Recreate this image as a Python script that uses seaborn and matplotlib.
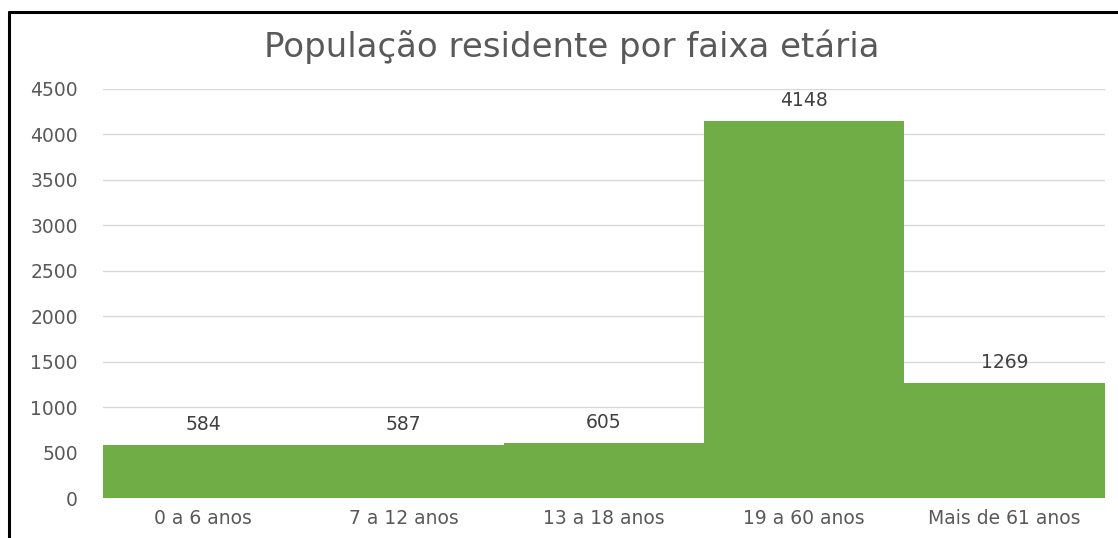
import matplotlib
matplotlib.use("Agg")
import matplotlib.pyplot as plt
import seaborn as sns
import pandas as pd
from matplotlib.lines import Line2D

# data
categories = ["0 a 6 anos", "7 a 12 anos", "13 a 18 anos", "19 a 60 anos", "Mais de 61 anos"]
values = [584, 587, 605, 4148, 1269]
yticks = [0, 500, 1000, 1500, 2000, 2500, 3000, 3500, 4000, 4500]

df = pd.DataFrame({"faixa": categories, "pop": values})

sns.set_style("white")
plt.rcParams["font.family"] = ["DejaVu Sans"]

fig = plt.figure(figsize=(11.18, 5.38), dpi=100)
ax = fig.add_axes([0.0921, 0.0743, 0.896, 0.7603])

sns.barplot(data=df, x="faixa", y="pop", color="#70AD47", width=1.0,
            saturation=1, linewidth=0, ax=ax, zorder=2)

ax.set_ylim(0, 4500)
ax.set_yticks(yticks)
ax.set_xlim(-0.5, len(categories) - 0.5)
ax.yaxis.grid(True, color="#D9D9D9", linewidth=1.0, zorder=0)
ax.set_axisbelow(True)
for s in ax.spines.values():
    s.set_visible(False)
ax.tick_params(axis="both", length=0, colors="#595959", labelsize=13.5)
ax.tick_params(axis="y", pad=18)
ax.tick_params(axis="x", pad=8)
ax.set_xlabel("")
ax.set_ylabel("")

for i, v in enumerate(values):
    ax.annotate(str(v), (i, v), xytext=(0, 8), textcoords="offset points",
                ha="center", va="bottom", fontsize=13.5, color="#404040")

fig.text(0.511, 0.914, "População residente por faixa etária", ha="center",
         va="center", fontsize=24.5, color="#595959")

# black frame lines (left + top)
fig.add_artist(Line2D([9 / 1118, 9 / 1118], [0, 1 - 12 / 538], color="black",
                      linewidth=2.2, transform=fig.transFigure))
fig.add_artist(Line2D([9 / 1118, 1], [1 - 12 / 538, 1 - 12 / 538], color="black",
                      linewidth=2.2, transform=fig.transFigure))

fig.savefig("out.png", dpi=100)
